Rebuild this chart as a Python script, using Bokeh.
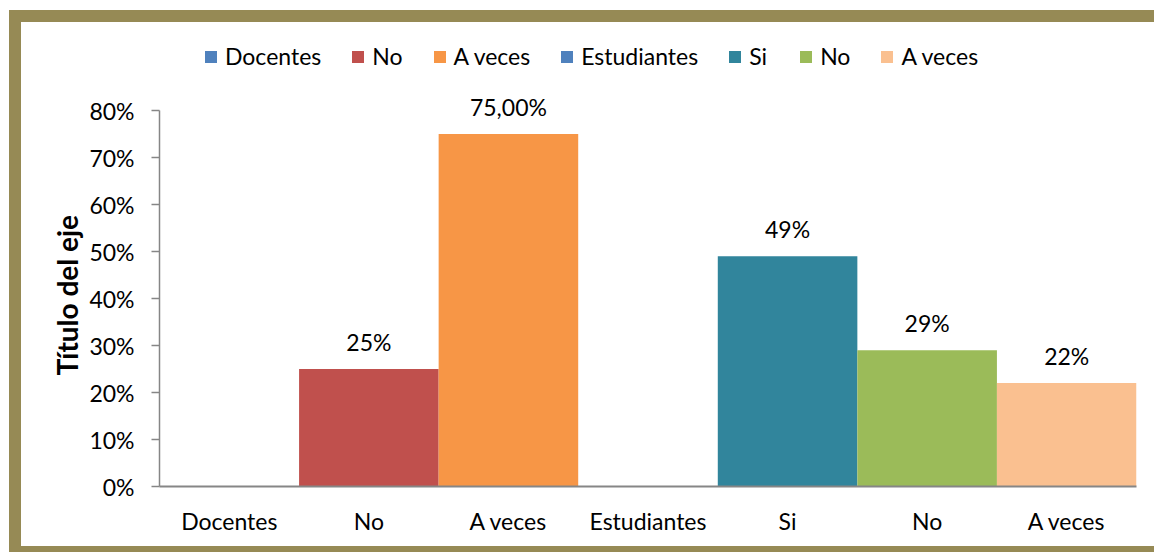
from bokeh.plotting import figure
from bokeh.layouts import column, row
from bokeh.models import (ColumnDataSource, Range1d, FixedTicker, NumeralTickFormatter,
                          Legend, LegendItem, Spacer, Title)
from bokeh.core.properties import value
from bokeh.embed import file_html
from bokeh.resources import INLINE

categories = ["Docentes", "No", "A veces", "Estudiantes", "Si", "No", "A veces"]
values = [0.0, 0.25, 0.75, 0.0, 0.49, 0.29, 0.22]
labels = ["", "25%", "75,00%", "", "49%", "29%", "22%"]
y_ticks = [0, 0.1, 0.2, 0.3, 0.4, 0.5, 0.6, 0.7, 0.8]
axis_title = "Título del eje"

colors = ["#4F81BD", "#C0504D", "#F79646", "#4F81BD", "#31859C", "#9BBB59", "#FAC090"]
FONT = "Lato"
OLIVE = "#968A55"
FS = "23px"

# layout geometry (pixels)
FRAME_TOP, AXIS_TOP, FRAME_BOTTOM, FIG_H = 14, 88, 464, 524
y_top = y_ticks[-1] * (FRAME_BOTTOM - FRAME_TOP) / (FRAME_BOTTOM - AXIS_TOP)

idx = list(range(len(categories)))
src = ColumnDataSource(dict(x=idx, top=values, color=colors, label=labels))

p = figure(width=1133, height=FIG_H, output_backend="svg", toolbar_location=None,
           x_range=Range1d(-0.5, len(categories) - 0.5), y_range=Range1d(0, y_top),
           min_border_left=138, min_border_top=FRAME_TOP, min_border_right=18,
           min_border_bottom=FIG_H - FRAME_BOTTOM)
p.background_fill_color = "white"
p.border_fill_color = "white"
p.outline_line_color = None
p.xgrid.visible = False
p.ygrid.visible = False

r = p.vbar(x="x", top="top", width=1.0, bottom=0, fill_color="color", line_color=None, source=src)
p.text(x="x", y="top", text="label", source=src, text_align="center", text_baseline="alphabetic",
       y_offset=-27, text_font=value(FONT), text_font_size=FS, text_color="black")

# x axis
p.xaxis.ticker = FixedTicker(ticks=idx)
p.xaxis.major_label_overrides = {i: c for i, c in enumerate(categories)}
p.xaxis.major_tick_line_color = None
p.xaxis.minor_tick_line_color = None
p.xaxis.axis_line_color = "#868686"
p.xaxis.axis_line_width = 2
p.xaxis.major_label_text_font = FONT
p.xaxis.major_label_text_font_size = FS
p.xaxis.major_label_text_color = "black"
p.xaxis.major_label_standoff = 14

# y axis
p.yaxis.ticker = FixedTicker(ticks=y_ticks)
p.yaxis.bounds = (0, y_ticks[-1])
p.yaxis.formatter = NumeralTickFormatter(format="0%")
p.yaxis.major_tick_out = 8
p.yaxis.major_tick_in = 0
p.yaxis.minor_tick_line_color = None
p.yaxis.axis_line_color = "#868686"
p.yaxis.major_tick_line_color = "#868686"
p.yaxis.axis_line_width = 1.5
p.yaxis.major_tick_line_width = 1.5
p.yaxis.major_label_text_font = FONT
p.yaxis.major_label_text_font_size = FS
p.yaxis.major_label_text_color = "black"
p.yaxis.major_label_standoff = 17

t = Title(text=axis_title, align="left", offset=111, text_font=FONT, text_font_size="28px",
          text_font_style="bold", text_color="black", standoff=5)
p.add_layout(t, "left")

items = [LegendItem(label=c, renderers=[r], index=i) for i, c in enumerate(categories)]
legend = Legend(items=items, orientation="horizontal", location=(44, 416),
                glyph_width=15, glyph_height=15, label_standoff=7, spacing=29,
                label_height=28, padding=0, margin=0, border_line_color=None,
                background_fill_alpha=0,
                label_text_font=FONT, label_text_font_size=FS, label_text_color="black")
p.add_layout(legend, "center")

olive = {"background-color": OLIVE}
layout = column(
    Spacer(width=1154, height=10),
    row(Spacer(width=9, height=542),
        column(Spacer(width=1145, height=12, styles=olive),
               row(Spacer(width=12, height=FIG_H, styles=olive), p),
               Spacer(width=1145, height=6, styles=olive))),
)

open("out.html", "w").write(file_html(layout, INLINE))
